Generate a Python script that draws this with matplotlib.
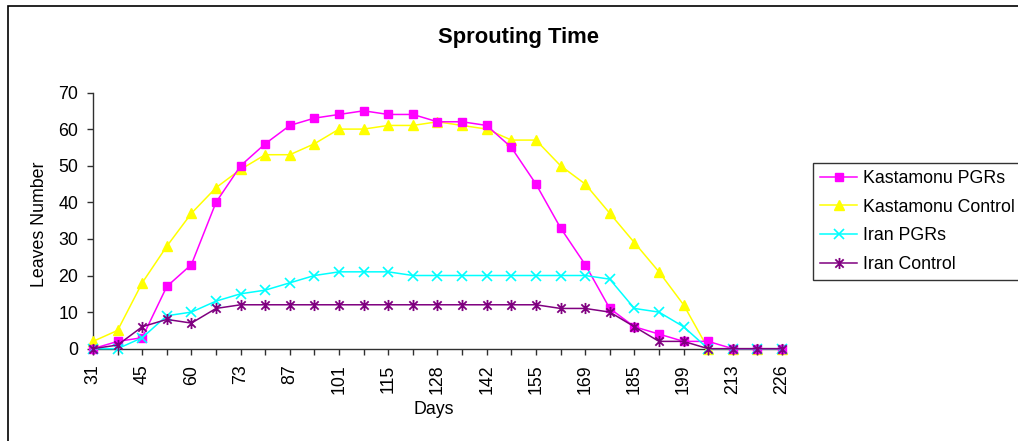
import numpy as np
import matplotlib
matplotlib.use("Agg")
import matplotlib.pyplot as plt
from matplotlib.path import Path
from matplotlib.patches import Rectangle

plt.rcParams['font.family'] = ['Liberation Sans', 'DejaVu Sans']

# -------------------------------------------------
# Data
# -------------------------------------------------
day_labels = ["31", "45", "60", "73", "87", "101", "115", "128",
              "142", "155", "169", "185", "199", "213", "226"]

kastamonu_pgrs = [0, 2, 3, 17, 23, 40, 50, 56, 61, 63, 64, 65, 64, 64, 62,
                  62, 61, 55, 45, 33, 23, 11, 6, 4, 2, 2, 0, 0, 0]
kastamonu_control = [2, 5, 18, 28, 37, 44, 49, 53, 53, 56, 60, 60, 61, 61, 62,
                     61, 60, 57, 57, 50, 45, 37, 29, 21, 12, 0, 0, 0, 0]
iran_pgrs = [0, 0, 3, 9, 10, 13, 15, 16, 18, 20, 21, 21, 21, 20, 20,
             20, 20, 20, 20, 20, 20, 19, 11, 10, 6, 0, 0, 0, 0]
iran_control = [0, 1, 6, 8, 7, 11, 12, 12, 12, 12, 12, 12, 12, 12, 12,
                12, 12, 12, 12, 11, 11, 10, 6, 2, 2, 0, 0, 0, 0]

x = np.arange(len(kastamonu_pgrs))

# Excel style star marker: x plus vertical bar
star = Path([(0, -1), (0, 1), (-0.75, -0.75), (0.75, 0.75), (-0.75, 0.75), (0.75, -0.75)],
            [Path.MOVETO, Path.LINETO, Path.MOVETO, Path.LINETO, Path.MOVETO, Path.LINETO])

# -------------------------------------------------
# Figure
# -------------------------------------------------
W, H = 1018, 441
fig = plt.figure(figsize=(W / 100, H / 100), dpi=100)
ax = fig.add_axes([93 / W, 1 - 348.7 / H, (782 - 93) / W, (348.7 - 92.5) / H])

fs = 12.8
ax.plot(x, kastamonu_pgrs, color="#FF00FF", lw=1.1, marker="s", ms=6,
        label="Kastamonu PGRs", clip_on=False, zorder=4)
ax.plot(x, kastamonu_control, color="#FFFF00", lw=1.1, marker="^", ms=7.5,
        label="Kastamonu Control", clip_on=False, zorder=3)
ax.plot(x, iran_pgrs, color="#00FFFF", lw=1.1, marker="x", ms=7, mew=1.2,
        label="Iran PGRs", clip_on=False, zorder=5)
ax.plot(x, iran_control, color="#800080", lw=1.1, marker=star, ms=8, mew=1.3,
        label="Iran Control", clip_on=False, zorder=6)

ax.set_xlim(0, len(x) - 1)
ax.set_ylim(0, 70)
ax.set_yticks(np.arange(0, 71, 10))
ax.set_xticks(x)
ax.set_xticklabels([day_labels[i // 2] if i % 2 == 0 else "" for i in x], rotation=90)

for s in ["top", "right"]:
    ax.spines[s].set_visible(False)
for s in ["left", "bottom"]:
    ax.spines[s].set_color("#303030")
    ax.spines[s].set_linewidth(1.0)
ax.tick_params(axis="both", direction="out", length=4.5, width=1.0,
               color="#303030", labelsize=fs, pad=6)
ax.tick_params(axis="x", pad=7)

fig.text(518 / W, 1 - 37 / H, "Sprouting Time", ha="center", va="center",
         fontsize=15.8, fontweight="bold")
fig.text(40 / W, 1 - 224 / H, "Leaves Number", ha="center", va="center",
         rotation=90, fontsize=fs)
fig.text(434 / W, 1 - 410 / H, "Days", ha="center", va="center", fontsize=fs)

leg = fig.legend(loc="upper left", bbox_to_anchor=(813 / W, 1 - 163 / H),
                 fontsize=fs, frameon=True, fancybox=False, handlelength=2.1,
                 handletextpad=0.3, labelspacing=0.65, borderpad=0.4,
                 borderaxespad=0)
leg.get_frame().set_edgecolor("black")
leg.get_frame().set_linewidth(1.0)

# outer chart border (only top and left visible)
fig.patches.append(Rectangle((8 / W, -0.2), 1.2, 1.2 - 6 / H,
                             transform=fig.transFigure, fill=False,
                             edgecolor="black", lw=1.2))

fig.savefig("out.png", dpi=100)
